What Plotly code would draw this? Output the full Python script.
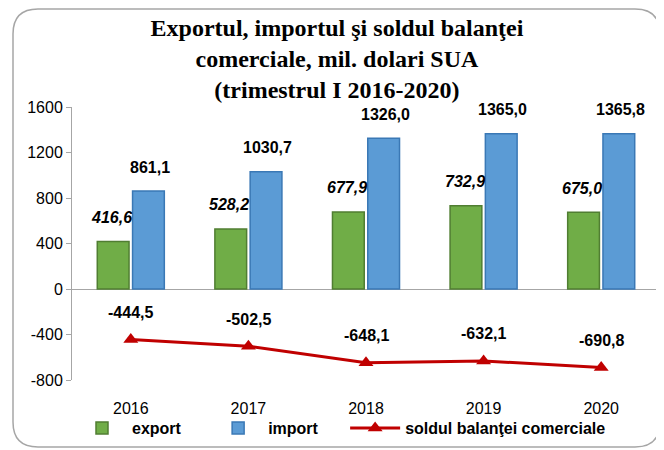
import plotly.graph_objects as go

# data
years = ["2016", "2017", "2018", "2019", "2020"]
export_vals = [416.6, 528.2, 677.9, 732.9, 675.0]
import_vals = [861.1, 1030.7, 1326.0, 1365.0, 1365.8]
balance_vals = [-444.5, -502.5, -648.1, -632.1, -690.8]
ytick_vals = [-800, -400, 0, 400, 800, 1200, 1600]
ytick_text = ["-800", "-400", "0", "400", "800", "1200", "1600"]

title = (
    "Exportul, importul şi soldul balanţei<br>"
    "comerciale, mil. dolari SUA<br>"
    "(trimestrul I 2016-2020)"
)

# the page body adds an 8px margin, so the figure is 8px smaller than the window
W, H = 656, 442
M_L, M_R, M_T, M_B = 64, 4, 99, 70
PW = W - M_L - M_R
PH = H - M_T - M_B

LABEL_FONT = dict(family="Liberation Sans", size=16, color="black")
NBSP = "\u00a0"


def fmt(v):
    # romanian decimal comma
    return f"{v:.1f}".replace(".", ",")


def px_to_paper(x, y):
    return (x - M_L) / PW, (H - M_B - y) / PH


def rounded_rect_path(x0, y0, x1, y1, r):
    # corners built in pixels, then moved to paper coords
    def p(x, y):
        px, py = px_to_paper(x, y)
        return f"{px:.5f},{py:.5f}"

    return (
        f"M{p(x0 + r, y0)} L{p(x1 - r, y0)} Q{p(x1, y0)} {p(x1, y0 + r)} "
        f"L{p(x1, y1 - r)} Q{p(x1, y1)} {p(x1 - r, y1)} "
        f"L{p(x0 + r, y1)} Q{p(x0, y1)} {p(x0, y1 - r)} "
        f"L{p(x0, y0 + r)} Q{p(x0, y0)} {p(x0 + r, y0)} Z"
    )


fig = go.Figure()

fig.add_trace(
    go.Bar(
        x=years,
        y=export_vals,
        name="export" + NBSP * 5,
        marker=dict(color="#70AD47", line=dict(color="#507E32", width=1.5)),
    )
)
fig.add_trace(
    go.Bar(
        x=years,
        y=import_vals,
        name="import" + NBSP * 5,
        marker=dict(color="#5B9BD5", line=dict(color="#3A78B5", width=1.5)),
    )
)
fig.add_trace(
    go.Scatter(
        x=years,
        y=balance_vals,
        name="soldul balanţei comerciale",
        mode="lines+markers",
        line=dict(color="#C00000", width=3),
        marker=dict(symbol="triangle-up", size=13, color="#C00000"),
    )
)

# data labels (category index as x: numeric-looking names confuse annotations)
annotations = []
for i, v in enumerate(export_vals):
    annotations.append(
        dict(x=i, y=v, text=f"<b><i>{fmt(v)}</i></b>", showarrow=False,
             xshift=-19, yshift=24, font=LABEL_FONT)
    )
for i, v in enumerate(import_vals):
    annotations.append(
        dict(x=i, y=v, text=f"<b>{fmt(v)}</b>", showarrow=False,
             xshift=19, yshift=24, font=LABEL_FONT)
    )
for i, v in enumerate(balance_vals):
    annotations.append(
        dict(x=i, y=v, text=f"<b>{fmt(v)}</b>", showarrow=False,
             yshift=27, font=LABEL_FONT)
    )

fig.update_xaxes(
    type="category",
    range=[-0.5, len(years) - 0.5],
    showgrid=False,
    showline=False,
    ticks="",
    ticklabelstandoff=17,
    tickfont=dict(family="Liberation Sans", size=16, color="black"),
)
fig.update_yaxes(
    range=[-800, 1600],
    tickmode="array",
    tickvals=ytick_vals,
    ticktext=ytick_text,
    showgrid=False,
    showline=True,
    linecolor="#A6A6A6",
    linewidth=1,
    ticks="outside",
    ticklen=5,
    tickcolor="#A6A6A6",
    zeroline=True,
    zerolinecolor="#A6A6A6",
    zerolinewidth=1,
    tickfont=dict(family="Liberation Sans", size=16, color="black"),
)

fig.update_layout(
    width=W,
    height=H,
    margin=dict(l=M_L, r=M_R, t=M_T, b=M_B, autoexpand=False),
    barmode="group",
    bargap=0.4,
    bargroupgap=0.1,
    plot_bgcolor="white",
    paper_bgcolor="white",
    title=dict(
        text=f"<b>{title}</b>",
        x=0.5015,
        xanchor="center",
        y=0.937,
        yanchor="top",
        font=dict(family="Liberation Serif", size=24, color="black"),
    ),
    showlegend=True,
    legend=dict(
        orientation="h",
        x=0,
        xanchor="left",
        y=-0.176,
        yanchor="middle",
        itemwidth=50,
        font=dict(family="Liberation Sans", size=16, color="black", weight="bold"),
        bgcolor="rgba(0,0,0,0)",
    ),
    annotations=annotations,
    shapes=[
        dict(
            type="path",
            xref="paper",
            yref="paper",
            path=rounded_rect_path(5, 1, 652, 439, 25),
            line=dict(color="#A6A6A6", width=1.5),
            layer="below",
        )
    ],
)

fig.write_html("out.html")
